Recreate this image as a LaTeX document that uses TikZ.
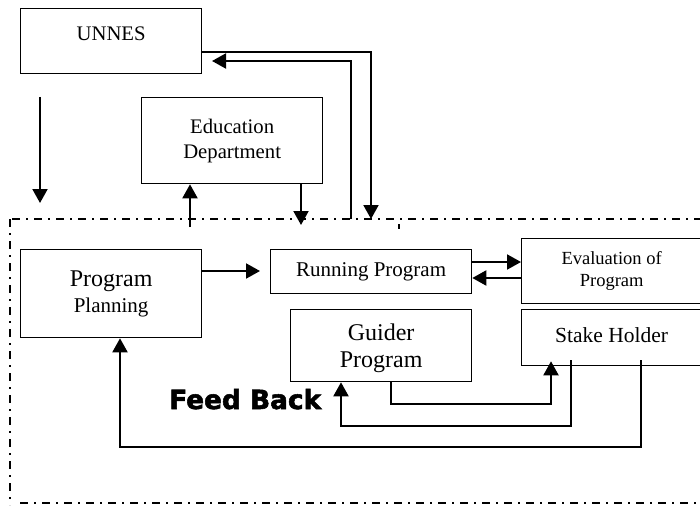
\documentclass[tikz,border=0pt]{standalone}
\usepackage{fontspec}
\setmainfont{Liberation Serif}
\newfontfamily\fbfont{DejaVu Sans}[BoldFeatures={FakeBold=2}]
\usetikzlibrary{arrows.meta, positioning, calc}

\begin{document}
\begin{tikzpicture}[
    % one unit = one pixel of the page
    x=1pt, y=-1pt,
    box/.style={draw, rectangle, line width=1.3pt, inner sep=0pt, align=center, anchor=north west},
    conn/.style={line width=2pt},
    border/.style={line width=1.3pt, dash pattern=on 8pt off 6pt on 2pt off 6pt},
    >={Triangle[length=14pt,width=15pt]}
]
\useasboundingbox (0,0) rectangle (700,505);
\clip (0,0) rectangle (700,505);

% Boxes
\node[box, minimum width=181pt, minimum height=65pt, text depth=16pt, font=\fontsize{20.7}{25}\selectfont] (unnes) at (20,8) {UNNES};
\node[box, minimum width=181pt, minimum height=86pt, font=\fontsize{20.7}{25}\selectfont] (edu) at (141,97) {Education\\Department};
\node[box, minimum width=181pt, minimum height=88pt, font=\fontsize{21}{26}\selectfont] (plan) at (20,249) {{\fontsize{24}{26}\selectfont Program}\\Planning};
\node[box, minimum width=201pt, minimum height=44pt, font=\fontsize{21}{25}\selectfont] (run) at (270,249) {Running Program};
\node[box, minimum width=180pt, minimum height=65pt, font=\fontsize{18.5}{22}\selectfont] (evalp) at (521,238) {Evaluation of\\Program};
\node[box, minimum width=181pt, minimum height=72pt, text depth=-5pt, font=\fontsize{24}{27}\selectfont] (guide) at (290,309) {Guider\\Program};
\node[box, minimum width=180pt, minimum height=56pt, text depth=6pt, font=\fontsize{21.5}{25}\selectfont] (stake) at (521,309) {Stake Holder};
\node[anchor=base west, inner sep=0pt, font=\fbfont\bfseries\fontsize{26.4}{30}\selectfont] (feedback) at (169,409) {Feed Back};

% Frame of the program
\draw[border] (12,219) -- (700,219);
\draw[border] (10,219) -- (10,505);
\draw[border] (20,503) -- (700,503);
\draw[line width=1.3pt] (399,224) -- (399,229);

% Free ends on the frame
\coordinate (ua) at (40,97);
\coordinate (ub) at (40,203);
\coordinate (ux) at (371,219);
\coordinate (uy) at (351,219);
\coordinate (uz) at (212,61);
\coordinate (ea) at (190,227);
\coordinate (eb) at (301,225);

% Connections
\draw[conn, ->] (ua) -- (ub);
\draw[conn, ->] (unnes.east |- 0,52) -| (ux);
\draw[conn, ->] (uy) |- (uz);
\draw[conn, ->] (ea) -- ($(edu.south west)+(49,0)$);
\draw[conn, ->] ($(edu.south west)+(160,0)$) -- (eb);
\draw[conn, ->] ($(plan.north east)+(0,22)$) -- ($(run.north west)+(-10,22)$);
\draw[conn, ->] ($(run.north east)+(0,13)$) -- ($(evalp.north west)+(0,24)$);
\draw[conn, ->] ($(evalp.north west)+(0,40)$) -- ($(run.north east)+(0,29)$);
\draw[conn, ->] ($(guide.south west)+(101,0)$) -- ++(0,22) -| ($(stake.south west)+(30,-5)$);
\draw[conn, ->] ($(stake.south west)+(50,-6)$) -- ++(0,66) -| ($(guide.south west)+(51,0)$);
\draw[conn, ->] ($(stake.south west)+(120,-6)$) -- ++(0,87) -| ($(plan.south west)+(100,0)$);

\end{tikzpicture}
\end{document}
